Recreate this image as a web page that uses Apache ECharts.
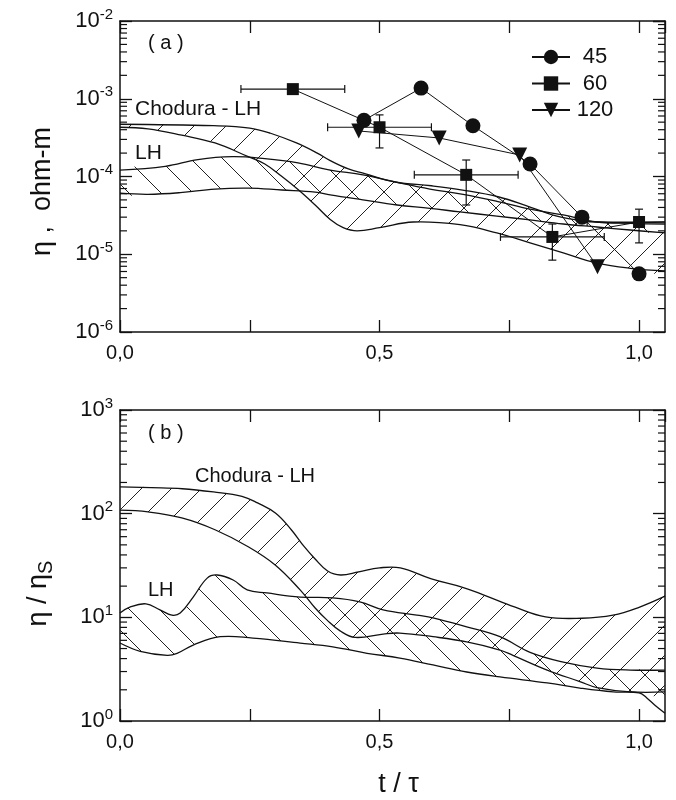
<!DOCTYPE html>
<html><head><meta charset="utf-8">
<script src="https://cdn.jsdelivr.net/npm/echarts@6/dist/echarts.min.js"></script>
<style>html,body{margin:0;padding:0;background:#fff}#c{width:676px;height:800px}</style>
</head><body><div id="c"></div>
<script>
// ---------- Panel (a) : measured eta (ohm-m) ----------
const seriesNames = ['45', '60', '120'];
const t45 = [0.47, 0.58, 0.68, 0.79, 0.89, 1.0];
const eta45 = [5.3e-4, 1.37e-3, 4.5e-4, 1.45e-4, 3.0e-5, 5.6e-6];
const t60 = [0.333, 0.5, 0.667, 0.833, 1.0];
const eta60 = [1.33e-3, 4.3e-4, 1.05e-4, 1.67e-5, 2.6e-5];
const t60Err = [0.1, 0.1, 0.1, 0.1, 0.1];
const eta60Low = ['-', 2.33e-4, 4.3e-5, 8.4e-6, 1.4e-5];
const eta60High = ['-', 6.2e-4, 1.63e-4, 2.45e-5, 3.8e-5];
const t120 = [0.46, 0.615, 0.77, 0.92];
const eta120 = [3.85e-4, 3.13e-4, 1.89e-4, 6.9e-6];

// Chodura - LH band (a)
const tChUpA = [0, 0.18, 0.25, 0.29, 0.34, 0.38, 0.405, 0.44, 0.47, 0.53, 0.60, 0.66, 0.73, 0.79, 0.85, 0.92, 0.98, 1.05];
const chUpA = [4.7e-4, 4.5e-4, 4.2e-4, 3.6e-4, 2.7e-4, 2.0e-4, 1.6e-4, 1.25e-4, 1.1e-4, 8.5e-5, 7.6e-5, 6.7e-5, 5.45e-5, 4.05e-5, 3.0e-5, 2.6e-5, 2.55e-5, 2.6e-5];
const tChLoA = [0, 0.054, 0.119, 0.183, 0.247, 0.279, 0.312, 0.343, 0.376, 0.405, 0.43, 0.457, 0.50, 0.565, 0.655, 0.726, 0.79, 0.854, 0.919, 0.983, 1.05];
const chLoA = [4.3e-4, 4.1e-4, 3.4e-4, 2.7e-4, 1.8e-4, 1.45e-4, 1.0e-4, 6.8e-5, 4.3e-5, 2.8e-5, 2.2e-5, 2.0e-5, 2.2e-5, 2.6e-5, 2.4e-5, 1.88e-5, 1.4e-5, 1.04e-5, 7.7e-6, 6.6e-6, 6.1e-6];
// LH band (a)
const tLhUpA = [0, 0.087, 0.15, 0.216, 0.279, 0.343, 0.405, 0.468, 0.534, 0.597, 0.661, 0.726, 0.79, 0.854, 0.919, 0.983, 1.05];
const lhUpA = [1.21e-4, 1.35e-4, 1.65e-4, 1.8e-4, 1.7e-4, 1.5e-4, 1.21e-4, 1.05e-4, 8.4e-5, 6.9e-5, 5.9e-5, 4.8e-5, 3.8e-5, 3.2e-5, 2.6e-5, 2.5e-5, 2.45e-5];
const tLhLoA = [0, 0.054, 0.116, 0.183, 0.247, 0.312, 0.376, 0.405, 0.468, 0.534, 0.597, 0.655, 0.726, 0.79, 0.854, 0.919, 0.983, 1.05];
const lhLoA = [6.1e-5, 5.9e-5, 6.2e-5, 6.9e-5, 7.1e-5, 6.7e-5, 6.3e-5, 5.8e-5, 5.0e-5, 4.3e-5, 3.9e-5, 3.5e-5, 3.1e-5, 2.76e-5, 2.45e-5, 2.24e-5, 2.05e-5, 1.88e-5];

// ---------- Panel (b) : eta / eta_S ----------
const tChUpB = [0, 0.06, 0.12, 0.18, 0.235, 0.265, 0.30, 0.33, 0.355, 0.375, 0.40, 0.425, 0.46, 0.50, 0.54, 0.60, 0.66, 0.70, 0.76, 0.82, 0.89, 0.95, 1.0, 1.05];
const chUpB = [181, 178, 174, 162, 147, 127, 101, 70, 48, 37, 28, 25.6, 27.5, 30, 30, 23.5, 19.5, 16.5, 12.6, 10.1, 9.8, 10.5, 12.5, 16];
const tChLoB = [0, 0.054, 0.119, 0.183, 0.247, 0.299, 0.347, 0.376, 0.399, 0.424, 0.453, 0.507, 0.539, 0.603, 0.668, 0.732, 0.757, 0.823, 0.886, 0.919, 0.983, 1.05];
const chLoB = [108, 104, 91, 70, 48, 32, 18.4, 12.3, 9.4, 7.4, 6.4, 6.9, 7.05, 6.5, 5.8, 4.84, 4.3, 3.1, 2.4, 2.1, 1.91, 1.91];
const tLhUpB = [0, 0.02, 0.05, 0.077, 0.10, 0.116, 0.141, 0.168, 0.187, 0.218, 0.245, 0.283, 0.347, 0.41, 0.462, 0.507, 0.572, 0.603, 0.668, 0.732, 0.79, 0.854, 0.919, 0.983, 1.05];
const lhUpB = [11.0, 12.6, 13.5, 11.8, 10.5, 11.0, 15.7, 23.9, 25.6, 22.9, 18.4, 17.2, 15.7, 15.4, 14.1, 11.8, 10.5, 9.9, 8.1, 6.5, 4.6, 3.7, 3.24, 3.1, 3.1];
const tLhLoB = [0, 0.039, 0.091, 0.11, 0.141, 0.193, 0.256, 0.347, 0.41, 0.476, 0.539, 0.603, 0.668, 0.732, 0.823, 0.886, 0.95, 1.0, 1.015, 1.03, 1.05];
const lhLoB = [5.65, 4.7, 4.3, 4.5, 5.4, 6.5, 6.3, 5.65, 5.2, 4.5, 4.05, 3.47, 2.97, 2.66, 2.33, 2.08, 1.91, 1.87, 1.67, 1.43, 1.19];

// axis ticks
const xTickStep = 0.25;
const xLabelled = [0, 0.5, 1.0];
const minorMult = [2, 3, 4, 5, 6, 7, 8, 9];
const decadesA = [-6, -5, -4, -3];
const decadesB = [0, 1, 2];

// ---------- helpers ----------
const FONT = '"Liberation Sans", Arial, Helvetica, sans-serif';
const INK = '#111';
const SMOOTH = 0.4;
function hatch(dir, size) {
  const c = document.createElement('canvas');
  c.width = size; c.height = size;
  const g = c.getContext('2d');
  g.strokeStyle = '#222'; g.lineWidth = 1;
  g.beginPath();
  if (dir === '/') {
    g.moveTo(-2, size + 2); g.lineTo(size + 2, -2);
    g.moveTo(-2, 2); g.lineTo(2, -2);
    g.moveTo(size - 2, size + 2); g.lineTo(size + 2, size - 2);
  } else {
    g.moveTo(-2, -2); g.lineTo(size + 2, size + 2);
    g.moveTo(size - 2, -2); g.lineTo(size + 2, 2);
    g.moveTo(-2, size - 2); g.lineTo(2, size + 2);
  }
  g.stroke();
  return c;
}
const patA1 = hatch('/', 32), patA2 = hatch('\\', 32);
const patB1 = hatch('/', 30), patB2 = hatch('\\', 30);

function band(gi, tUp, vUp, tLo, vLo, pat, z) {
  return {
    type: 'custom', xAxisIndex: gi * 2, yAxisIndex: gi * 2, z: z, silent: true,
    data: [[tUp[0], vUp[0]]],
    renderItem: function (params, api) {
      const cs = params.coordSys;
      const box = [[cs.x, cs.y], [cs.x + cs.width, cs.y + cs.height]];
      const up = tUp.map((t, i) => api.coord([t, vUp[i]]));
      const lo = tLo.map((t, i) => api.coord([t, vLo[i]]));
      const poly = up.concat(lo.slice().reverse());
      const ls = { fill: null, stroke: INK, lineWidth: 1.3 };
      return { type: 'group', children: [
        { type: 'polygon', shape: { points: poly, smooth: SMOOTH, smoothConstraint: box }, style: { fill: { image: pat, repeat: 'repeat' }, stroke: null } },
        { type: 'polyline', shape: { points: up, smooth: SMOOTH, smoothConstraint: box }, style: ls },
        { type: 'polyline', shape: { points: lo, smooth: SMOOTH, smoothConstraint: box }, style: ls }
      ] };
    }
  };
}

function minorTicks(gi, decades) {
  const data = [];
  decades.forEach(d => minorMult.forEach(m => data.push([0, m * Math.pow(10, d)])));
  return {
    type: 'custom', xAxisIndex: gi * 2, yAxisIndex: gi * 2, silent: true, z: 5,
    data: data,
    renderItem: function (params, api) {
      const v = api.value(1);
      const l = api.coord([0, v]), r = api.coord([1.05, v]);
      const st = { stroke: INK, lineWidth: 1.2 };
      return { type: 'group', children: [
        { type: 'line', shape: { x1: l[0], y1: l[1], x2: l[0] + 7, y2: l[1] }, style: st },
        { type: 'line', shape: { x1: r[0], y1: r[1], x2: r[0] - 7, y2: r[1] }, style: st }
      ] };
    }
  };
}

function fmtX(v) {
  const r = Math.round(v * 100) / 100;
  return xLabelled.indexOf(r) >= 0 ? r.toFixed(1).replace('.', ',') : '';
}
function fmtY(v) {
  return '{b|10}{s|' + Math.round(Math.log10(v)) + '}';
}
const yRich = {
  b: { fontSize: 22, fontFamily: FONT, color: INK, lineHeight: 28 },
  s: { fontSize: 15, fontFamily: FONT, color: INK, verticalAlign: 'top', lineHeight: 15 }
};
function xAxes(gi, withName) {
  const common = {
    gridIndex: gi, type: 'value', min: 0, max: 1.05, interval: xTickStep,
    splitLine: { show: false },
    axisLine: { onZero: false, lineStyle: { color: INK, width: 1.5 } },
    axisTick: { inside: true, length: 12, lineStyle: { color: INK, width: 1.3 } }
  };
  const bottom = Object.assign({}, common, {
    position: 'bottom',
    axisLabel: { formatter: fmtX, fontSize: 20, fontFamily: FONT, color: INK, margin: 11, showMaxLabel: false }
  });
  if (withName) Object.assign(bottom, { name: 't / τ', nameLocation: 'middle', nameGap: 50, nameTextStyle: { fontSize: 27, fontFamily: FONT, color: INK, padding: [0, 0, 0, 12] } });
  const top = Object.assign({}, common, { position: 'top', axisLabel: { show: false } });
  return [bottom, top];
}
function yAxes(gi, mn, mx, name, nameRich, shift) {
  const common = {
    gridIndex: gi, type: 'log', logBase: 10, min: mn, max: mx,
    splitLine: { show: false }, minorTick: { show: false },
    axisLine: { onZero: false, lineStyle: { color: INK, width: 1.5 } },
    axisTick: { inside: true, length: 12, lineStyle: { color: INK, width: 1.3 } }
  };
  const left = Object.assign({}, common, {
    position: 'left',
    axisLabel: { formatter: fmtY, rich: yRich, margin: 7 },
    name: name, nameLocation: 'middle', nameGap: 64, nameRotate: 90,
    nameTextStyle: { fontSize: 27, fontFamily: FONT, color: INK, rich: nameRich, padding: [0, shift, 0, 0] }
  });
  const right = Object.assign({}, common, { position: 'right', axisLabel: { show: false } });
  return [left, right];
}

const pts = (ts, vs) => ts.map((t, i) => [t, vs[i]]);
const errData = t60.map((t, i) => [t, eta60[i], t60Err[i], eta60Low[i], eta60High[i]]);

const chart = echarts.init(document.getElementById('c'), null, { renderer: 'canvas' });
chart.setOption({
  backgroundColor: '#fff',
  animation: false,
  textStyle: { fontFamily: FONT },
  grid: [
    { left: 120, top: 21, width: 545, height: 311 },
    { left: 120, top: 410, width: 545, height: 311 }
  ],
  xAxis: xAxes(0, false).concat(xAxes(1, true)),
  yAxis: yAxes(0, 1e-6, 1e-2, 'η ,  ohm-m', {}, 30).concat(
    yAxes(1, 1, 1e3, '{m|η / η}{u|S}', {
      m: { fontSize: 27, fontFamily: FONT, color: INK, lineHeight: 34 },
      u: { fontSize: 20, fontFamily: FONT, color: INK, verticalAlign: 'bottom', lineHeight: 20 }
    }, 56)),
  legend: {
    data: seriesNames, orient: 'vertical', left: 526, top: 41, itemWidth: 38, itemHeight: 18, itemGap: 4.5,
    formatter: n => '{c|' + n + '}',
    textStyle: { fontSize: 22, fontFamily: FONT, color: INK, rich: { c: { fontSize: 22, width: 40, align: 'center', fontFamily: FONT, color: INK } } },
    selectedMode: false
  },
  graphic: [
    { type: 'text', x: 148, y: 43, style: { text: '( a )', fontSize: 20, fontFamily: FONT, fill: INK, verticalAlign: 'middle' } },
    { type: 'text', x: 135, y: 109, style: { text: 'Chodura - LH', fontSize: 21, fontFamily: FONT, fill: INK, verticalAlign: 'middle' } },
    { type: 'text', x: 135, y: 153, style: { text: 'LH', fontSize: 21, fontFamily: FONT, fill: INK, verticalAlign: 'middle' } },
    { type: 'text', x: 148, y: 433, style: { text: '( b )', fontSize: 20, fontFamily: FONT, fill: INK, verticalAlign: 'middle' } },
    { type: 'text', x: 195, y: 476, style: { text: 'Chodura - LH', fontSize: 20, fontFamily: FONT, fill: INK, verticalAlign: 'middle' } },
    { type: 'text', x: 148, y: 590, style: { text: 'LH', fontSize: 20, fontFamily: FONT, fill: INK, verticalAlign: 'middle' } }
  ],
  series: [
    band(0, tChUpA, chUpA, tChLoA, chLoA, patA1, 1),
    band(0, tLhUpA, lhUpA, tLhLoA, lhLoA, patA2, 1),
    band(1, tChUpB, chUpB, tChLoB, chLoB, patB1, 1),
    band(1, tLhUpB, lhUpB, tLhLoB, lhLoB, patB2, 1),
    minorTicks(0, decadesA),
    minorTicks(1, decadesB),
    {
      type: 'custom', name: 'err60', xAxisIndex: 0, yAxisIndex: 0, z: 3, silent: true,
      data: errData,
      renderItem: function (params, api) {
        const t = api.value(0), v = api.value(1), dt = api.value(2), lo = api.value(3), hi = api.value(4);
        const st = { stroke: INK, lineWidth: 1.2 };
        const ch = [];
        const xl = Math.max(t - dt, 0), xr = Math.min(t + dt, 1.05);
        const a = api.coord([xl, v]), b = api.coord([xr, v]);
        ch.push({ type: 'line', shape: { x1: a[0], y1: a[1], x2: b[0], y2: b[1] }, style: st });
        if (t - dt >= 0) ch.push({ type: 'line', shape: { x1: a[0], y1: a[1] - 4, x2: a[0], y2: a[1] + 4 }, style: st });
        if (t + dt <= 1.05) ch.push({ type: 'line', shape: { x1: b[0], y1: b[1] - 4, x2: b[0], y2: b[1] + 4 }, style: st });
        if (isFinite(lo) && isFinite(hi)) {
          const p = api.coord([t, lo]), q = api.coord([t, hi]);
          ch.push({ type: 'line', shape: { x1: p[0], y1: p[1], x2: q[0], y2: q[1] }, style: st });
          ch.push({ type: 'line', shape: { x1: p[0] - 4, y1: p[1], x2: p[0] + 4, y2: p[1] }, style: st });
          ch.push({ type: 'line', shape: { x1: q[0] - 4, y1: q[1], x2: q[0] + 4, y2: q[1] }, style: st });
        }
        return { type: 'group', children: ch };
      }
    },
    { type: 'line', name: seriesNames[0], xAxisIndex: 0, yAxisIndex: 0, z: 4, data: pts(t45, eta45),
      symbol: 'circle', symbolSize: 15, itemStyle: { color: INK }, lineStyle: { color: INK, width: 1 } },
    { type: 'line', name: seriesNames[1], xAxisIndex: 0, yAxisIndex: 0, z: 4, data: pts(t60, eta60),
      symbol: 'rect', symbolSize: 12, itemStyle: { color: INK }, lineStyle: { color: INK, width: 1 } },
    { type: 'line', name: seriesNames[2], xAxisIndex: 0, yAxisIndex: 0, z: 4, data: pts(t120, eta120),
      symbol: 'triangle', symbolRotate: 180, symbolSize: 15, itemStyle: { color: INK }, lineStyle: { color: INK, width: 1 } }
  ]
});
</script></body></html>
